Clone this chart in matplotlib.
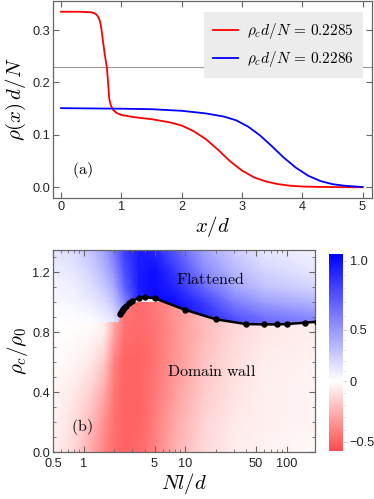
import numpy as np
import matplotlib
matplotlib.use("Agg")
import matplotlib.pyplot as plt
from matplotlib.colors import LinearSegmentedColormap, FuncNorm
from matplotlib.cm import ScalarMappable
from matplotlib.patches import Polygon
from matplotlib.ticker import FixedLocator, FixedFormatter, LogLocator, NullFormatter, MultipleLocator

plt.rcParams['mathtext.fontset'] = 'cm'
plt.rcParams['font.family'] = ['Liberation Sans', 'DejaVu Sans']

# ---- panel (a): density profiles ----
x_red = [0, 0.3, 0.5, 0.56, 0.6, 0.63, 0.65, 0.67, 0.7, 0.73, 0.76, 0.78, 0.8, 0.83, 0.87, 0.92,
         1.0, 1.2, 1.5, 1.8, 2.0, 2.2, 2.4, 2.6, 2.8, 3.0, 3.2, 3.4, 3.6, 3.8, 4.0, 4.3, 4.6, 5.0]
rho_red = [0.335, 0.335, 0.334, 0.332, 0.328, 0.322, 0.315, 0.302, 0.275, 0.25, 0.229, 0.2, 0.168,
           0.155, 0.147, 0.142, 0.138, 0.134, 0.130, 0.124, 0.118, 0.107, 0.092, 0.072, 0.050,
           0.032, 0.019, 0.011, 0.006, 0.003, 0.0015, 0.0007, 0.0003, 0.0]
x_blue = [0, 1.0, 1.5, 2.0, 2.4, 2.7, 2.9, 3.1, 3.3, 3.5, 3.7, 3.9, 4.1, 4.3, 4.5, 4.7, 5.0]
rho_blue = [0.151, 0.150, 0.149, 0.146, 0.141, 0.135, 0.128, 0.116, 0.099, 0.078, 0.056, 0.037,
            0.022, 0.012, 0.006, 0.003, 0.0005]
rho_c_red = 0.2285
rho_c_blue = 0.2286

# ---- panel (b): phase diagram ----
Nl_curve = [2.3, 2.35, 2.4, 2.45, 2.5, 2.6, 2.8, 3.0, 3.5, 4.0, 5.0, 10, 20, 40, 60, 80, 100, 150, 200]
rhoc_curve = [0.925, 0.935, 0.945, 0.953, 0.962, 0.975, 0.995, 1.010, 1.028, 1.035, 1.027, 0.950,
              0.887, 0.855, 0.853, 0.853, 0.855, 0.864, 0.871]
wall_level = 0.87  # left of curve start, blue/red seam

grid_Nl = [0.5, 0.8, 1.2, 1.6, 2.0, 2.5, 3.5, 5, 8, 15, 30, 60, 200]
red_rows = [0.0, 0.2, 0.4, 0.6, 0.8, 1.0]
red_vals = [
    [-0.05, -0.13, -0.28, -0.40, -0.47, -0.50, -0.48, -0.40, -0.25, -0.12, -0.06, -0.04, -0.02],
    [-0.04, -0.10, -0.22, -0.36, -0.46, -0.50, -0.50, -0.42, -0.28, -0.14, -0.07, -0.05, -0.03],
    [-0.03, -0.07, -0.15, -0.28, -0.44, -0.50, -0.50, -0.44, -0.31, -0.17, -0.09, -0.05, -0.03],
    [-0.01, -0.03, -0.08, -0.18, -0.40, -0.50, -0.50, -0.45, -0.34, -0.20, -0.11, -0.06, -0.04],
    [0.00, -0.01, -0.02, -0.06, -0.30, -0.46, -0.48, -0.45, -0.35, -0.22, -0.13, -0.08, -0.05],
    [0.00, 0.00, -0.01, -0.04, -0.26, -0.44, -0.47, -0.44, -0.34, -0.22, -0.13, -0.08, -0.05],
]
blue_rows = [0.8, 0.9, 1.0, 1.1, 1.2, 1.35]
blue_vals = [
    [0.00, 0.00, 0.01, 0.03, 0.08, 0.30, 0.80, 1.00, 1.00, 0.95, 0.80, 0.70, 0.60],
    [0.01, 0.02, 0.04, 0.08, 0.15, 0.40, 0.85, 1.00, 1.00, 0.92, 0.75, 0.64, 0.54],
    [0.03, 0.05, 0.10, 0.17, 0.30, 0.55, 0.90, 1.00, 1.00, 0.84, 0.60, 0.47, 0.36],
    [0.05, 0.08, 0.16, 0.26, 0.42, 0.68, 0.95, 1.00, 0.92, 0.68, 0.45, 0.30, 0.20],
    [0.08, 0.12, 0.22, 0.35, 0.52, 0.75, 0.95, 1.00, 0.85, 0.58, 0.36, 0.22, 0.12],
    [0.12, 0.18, 0.30, 0.45, 0.62, 0.82, 0.95, 0.92, 0.72, 0.45, 0.25, 0.12, 0.05],
]

cbar_ticks = [-0.5, 0, 0.5, 1.0]
cbar_labels = ['\u22120.5', '0', '0.5', '1.0']
# colour scale of the legend bar (value -> place along bar)
scale_vals = [-0.575, -0.5, 0.0, 0.5, 1.0, 1.048]
scale_pos = [0.0, 0.046, 0.354, 0.614, 0.966, 1.0]

cmap = LinearSegmentedColormap.from_list(
    'rw_b', [(0.0, '#ff4d4d'), (0.354, '#ffffff'), (1.0, '#0000ff')])
norm = FuncNorm((lambda v: np.interp(v, scale_vals, scale_pos),
                 lambda p: np.interp(p, scale_pos, scale_vals)),
                vmin=scale_vals[0], vmax=scale_vals[-1])

frame_col = '#666666'
tick_col = '#222222'
tick_fs = 9.2


def style_axes(ax):
    for s in ax.spines.values():
        s.set_color(frame_col)
        s.set_linewidth(0.9)
    ax.tick_params(which='both', direction='in', top=True, right=True,
                   color=frame_col, labelsize=tick_fs, labelcolor=tick_col, pad=2)
    ax.tick_params(which='major', length=4, width=0.8)
    ax.tick_params(which='minor', length=2, width=0.6)


fig = plt.figure(figsize=(3.74, 4.99), dpi=100)

# ---------- (a) ----------
ax1 = fig.add_axes([0.1417, 0.6026, 0.853, 0.3954])
ax1.axhline(rho_c_blue, color='#999999', lw=0.8, zorder=1)
ax1.plot(x_red, rho_red, color='#ff0000', lw=1.3, zorder=3,
         label=r'$\rho_c d/N \,=\, %.4f$' % rho_c_red)
ax1.plot(x_blue, rho_blue, color='#0000ff', lw=1.3, zorder=3,
         label=r'$\rho_c d/N \,=\, %.4f$' % rho_c_blue)
ax1.set_xlim(-0.133, 5.157)
ax1.set_ylim(-0.021, 0.3555)
ax1.xaxis.set_major_locator(MultipleLocator(1))
ax1.yaxis.set_major_locator(FixedLocator([0, 0.1, 0.2, 0.3]))
ax1.yaxis.set_major_formatter(FixedFormatter(['0.0', '0.1', '0.2', '0.3']))
style_axes(ax1)
ax1.set_xlabel(r'$x/d$', fontsize=15, labelpad=1)
ax1.set_ylabel(r'$\rho(x)\,d/N$', fontsize=15, labelpad=3)
ax1.text(0.18, 0.033, r'$\mathrm{(a)}$', fontsize=11.5, va='center', ha='left')
leg = ax1.legend(loc='upper right', bbox_to_anchor=(0.972, 0.944), borderaxespad=0,
                 fontsize=11, frameon=True, fancybox=False, handlelength=1.6,
                 handletextpad=0.6, borderpad=0.6, labelspacing=0.5)
leg.get_frame().set_facecolor('#ececec')
leg.get_frame().set_edgecolor('none')
leg.get_frame().set_alpha(1)
leg.set_zorder(5)

# ---------- (b) ----------
ax2 = fig.add_axes([0.1417, 0.0936, 0.7005, 0.4054])
ax2.set_xscale('log')
ax2.set_xlim(0.5, 190)
ax2.set_ylim(0, 1.349)

bx = [0.3, Nl_curve[0] * 0.96] + list(Nl_curve) + [400]
by = [wall_level, wall_level] + list(rhoc_curve) + [rhoc_curve[-1]]
blue_poly = Polygon(list(zip(bx, by)) + [(400, 3), (0.3, 3)], closed=True,
                    transform=ax2.transData, facecolor='none', edgecolor='none')
red_poly = Polygon(list(zip(bx, by)) + [(400, -1), (0.3, -1)], closed=True,
                   transform=ax2.transData, facecolor='none', edgecolor='none')
ax2.add_patch(blue_poly)
ax2.add_patch(red_poly)

Xr, Yr = np.meshgrid(grid_Nl, red_rows)
mr = ax2.pcolormesh(Xr, Yr, np.array(red_vals), shading='gouraud', cmap=cmap, norm=norm,
                    zorder=1, rasterized=True)
mr.set_clip_path(red_poly)
Xb, Yb = np.meshgrid(grid_Nl, blue_rows)
mb = ax2.pcolormesh(Xb, Yb, np.array(blue_vals), shading='gouraud', cmap=cmap, norm=norm,
                    zorder=1, rasterized=True)
mb.set_clip_path(blue_poly)

ax2.plot(Nl_curve, rhoc_curve, color='black', lw=1.8, marker='o', ms=3.6, zorder=4,
         clip_on=True)

ax2.xaxis.set_major_locator(FixedLocator([0.5, 1, 5, 10, 50, 100]))
ax2.xaxis.set_major_formatter(FixedFormatter(['0.5', '1', '5', '10', '50', '100']))
ax2.xaxis.set_minor_locator(LogLocator(base=10, subs=np.arange(1, 10), numticks=20))
ax2.xaxis.set_minor_formatter(NullFormatter())
ax2.yaxis.set_major_locator(FixedLocator([0, 0.4, 0.8, 1.2]))
ax2.yaxis.set_major_formatter(FixedFormatter(['0.0', '0.4', '0.8', '1.2']))
ax2.yaxis.set_minor_locator(MultipleLocator(0.1))
style_axes(ax2)
ax2.tick_params(axis='x', which='both', pad=4)
ax2.set_xlabel(r'$Nl/d$', fontsize=15, labelpad=1)
ax2.set_ylabel(r'$\rho_c/\rho_0$', fontsize=15, labelpad=2)
ax2.text(17.8, 1.155, r'$\mathrm{Flattened}$', fontsize=11.5, ha='center', va='center', zorder=5)
ax2.text(18.2, 0.542, r'$\mathrm{Domain\ wall}$', fontsize=11.5, ha='center', va='center', zorder=5)
ax2.text(0.76, 0.17, r'$\mathrm{(b)}$', fontsize=11.5, ha='left', va='center', zorder=5)

# ---------- colour bar ----------
cax = fig.add_axes([0.8797, 0.0968, 0.0366, 0.3942])
sm = ScalarMappable(norm=norm, cmap=cmap)
cb = fig.colorbar(sm, cax=cax, ticks=cbar_ticks)
cb.set_ticklabels(cbar_labels)
cb.outline.set_visible(False)
cax.tick_params(which='major', length=3, width=0.6, color='#cccccc', labelsize=tick_fs,
                labelcolor=tick_col, pad=2)
cax.yaxis.set_minor_locator(FixedLocator(np.arange(-0.5, 1.05, 0.1)))
cax.tick_params(which='minor', length=2, width=0.5, color='#dddddd')

fig.savefig('out.png', dpi=100)
